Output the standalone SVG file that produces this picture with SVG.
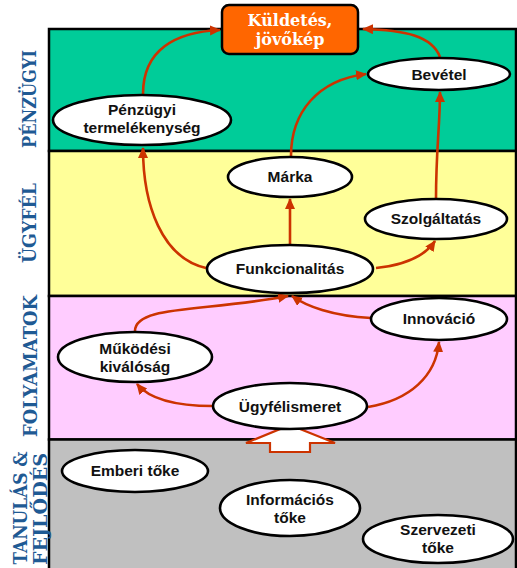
<svg xmlns="http://www.w3.org/2000/svg" width="517" height="568" viewBox="0 0 517 568">
<style>
.band{stroke:#000;stroke-width:2.5}
.node{fill:#fff;stroke:#000;stroke-width:2.6}
.lbl{font-family:"Liberation Sans",Arial,sans-serif;font-weight:bold;font-size:15.5px;text-anchor:middle;fill:#111}
.side{font-family:"DejaVu Serif","Liberation Serif",serif;font-weight:bold;font-size:18px;text-anchor:middle;fill:#1F5A94}
.title{font-family:"DejaVu Serif","Liberation Serif",serif;font-weight:bold;font-size:16px;text-anchor:middle;fill:#fff}
.con{fill:none;stroke:#CC3300;stroke-width:2.6;marker-end:url(#ah)}
</style>
<defs>
<marker id="ah" markerUnits="userSpaceOnUse" markerWidth="12" markerHeight="11" refX="10" refY="5" orient="auto">
<path d="M0,0 L11,5 L0,10 z" fill="#CC3300"/>
</marker>
</defs>
<rect width="517" height="568" fill="#fff"/>
<g id="bands">
<rect class="band" x="49" y="29" width="467" height="122" fill="#00CC99"/>
<rect class="band" x="49" y="151" width="467" height="145" fill="#FFFF99"/>
<rect class="band" x="49" y="296" width="467" height="143.5" fill="#FFCCFF"/>
<rect class="band" x="49" y="439.5" width="467" height="130" fill="#C0C0C0"/>
</g>
<g id="side-labels">
<text class="side" transform="translate(36,99) rotate(-90)" textLength="98" lengthAdjust="spacingAndGlyphs">PÉNZÜGYI</text>
<text class="side" transform="translate(36,223) rotate(-90)" textLength="80" lengthAdjust="spacingAndGlyphs">ÜGYFÉL</text>
<text class="side" transform="translate(37,366) rotate(-90)" textLength="142" lengthAdjust="spacingAndGlyphs">FOLYAMATOK</text>
<text class="side" transform="translate(27,508) rotate(-90)" textLength="113" lengthAdjust="spacingAndGlyphs">TANULÁS &amp;</text>
<text class="side" transform="translate(47,509) rotate(-90)" textLength="112" lengthAdjust="spacingAndGlyphs">FEJLŐDÉS</text>
</g>
<g id="connectors">
<path class="con" d="M143,94 C143,50 175,32 220,30"/>
<path class="con" d="M440,57 C432,36 405,30 363,29"/>
<path class="con" d="M291,156 C291,112 318,80 366,74"/>
<path class="con" d="M436,199 C436,150 440,125 440,92"/>
<path class="con" d="M290,245 L290,199"/>
<path class="con" d="M206,268 C162,258 143,205 143,148"/>
<path class="con" d="M376,268 C405,265 425,256 435,241"/>
<path class="con" d="M135,331 C135,305 205,312 288,296"/>
<path class="con" d="M371,318 C332,316 306,306 292,296"/>
<path class="con" d="M213,406 C178,406 150,400 137,384"/>
<path class="con" d="M368,407 C410,400 436,376 439,342"/>
<polygon id="block-arrow" points="290,425 335,443 310,443 310,452 270,452 270,443 246,443" fill="#fff" stroke="#CC3300" stroke-width="2.2" stroke-linejoin="miter"/>
</g>
<g id="mission">
<rect x="222" y="5" width="136" height="49" rx="7" fill="#FF6600" stroke="#000" stroke-width="2.5"/>
<text class="title" x="290" y="25.5">Küldetés,</text>
<text class="title" x="290" y="45">jövőkép</text>
</g>
<g id="penzugyi-termelekenyseg">
<ellipse class="node" cx="142" cy="120" rx="89" ry="25"/>
<text class="lbl" x="142" y="115">Pénzügyi</text>
<text class="lbl" x="142" y="133">termelékenység</text>
</g>
<g id="bevetel">
<ellipse class="node" cx="439" cy="74" rx="71" ry="16"/>
<text class="lbl" x="439" y="80">Bevétel</text>
</g>
<g id="marka">
<ellipse class="node" cx="290" cy="177" rx="62" ry="20"/>
<text class="lbl" x="290" y="182">Márka</text>
</g>
<g id="szolgaltatas">
<ellipse class="node" cx="436" cy="219" rx="71" ry="20"/>
<text class="lbl" x="436" y="224">Szolgáltatás</text>
</g>
<g id="funkcionalitas">
<ellipse class="node" cx="290" cy="269" rx="83" ry="24"/>
<text class="lbl" x="290" y="274">Funkcionalitás</text>
</g>
<g id="innovacio">
<ellipse class="node" cx="439" cy="319" rx="68" ry="21"/>
<text class="lbl" x="439" y="324">Innováció</text>
</g>
<g id="mukodesi-kivalosag">
<ellipse class="node" cx="135" cy="357" rx="77" ry="25"/>
<text class="lbl" x="135" y="354">Működési</text>
<text class="lbl" x="135" y="372">kiválóság</text>
</g>
<g id="ugyfelismeret">
<ellipse class="node" cx="290" cy="406" rx="77" ry="23"/>
<text class="lbl" x="290" y="412">Ügyfélismeret</text>
</g>
<g id="emberi-toke">
<ellipse class="node" cx="135" cy="471" rx="73" ry="21"/>
<text class="lbl" x="135" y="476">Emberi tőke</text>
</g>
<g id="informacios-toke">
<ellipse class="node" cx="290" cy="508" rx="70" ry="28"/>
<text class="lbl" x="290" y="505">Információs</text>
<text class="lbl" x="290" y="523">tőke</text>
</g>
<g id="szervezeti-toke">
<ellipse class="node" cx="438" cy="539" rx="75" ry="24"/>
<text class="lbl" x="438" y="535">Szervezeti</text>
<text class="lbl" x="438" y="553">tőke</text>
</g>
</svg>
